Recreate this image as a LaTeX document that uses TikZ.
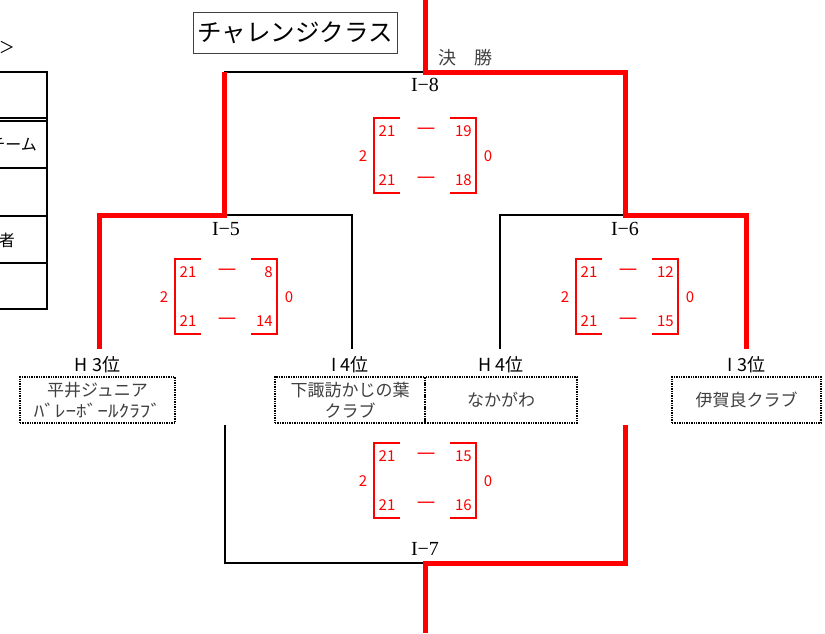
\documentclass[tikz,border=0pt]{standalone}
\usepackage{fontspec}
\usepackage{graphicx}
\newfontfamily\jp{Noto Sans CJK JP}
\newfontfamily\gamefont{Liberation Serif}
\usetikzlibrary{positioning}
\tikzset{
  win/.style={red,line width=5pt,line join=miter},
  lose/.style={black,line width=1.6pt},
  team/.style={draw,densely dotted,line width=1.4pt,minimum height=46pt,inner sep=0pt,
    text=darkgray,font=\jp\fontsize{17}{21}\selectfont,align=center},
  seed/.style={font=\jp\fontsize{18}{20}\selectfont,inner sep=0pt},
  game/.style={font=\gamefont\fontsize{20}{22}\selectfont,inner sep=0pt},
  pt/.style={text=red,font=\jp\fontsize{15}{16}\selectfont,inner sep=0pt},
  tab/.style={font=\jp\fontsize{16}{18}\selectfont,anchor=east,inner sep=0pt}
}
\newcommand\scorebox[7]{%
  \coordinate (#1) at (#2,#3);
  \draw[red,line width=1.5pt] (#1) ++(-25,-38) -- ++(-26,0) -- ++(0,75) -- ++(26,0);
  \draw[red,line width=1.5pt] (#1) ++(25,-38) -- ++(26,0) -- ++(0,75) -- ++(-26,0);
  \node[pt] (#1a) at ([shift={(-38,-25)}]#1) {#4};
  \node[pt] (#1d) at ([shift={(1,-25)}]#1) {\scalebox{1.4}[1]{ー}};
  \node[pt,anchor=east] (#1b) at ([shift={(47,-25)}]#1) {#5};
  \node[pt] (#1c) at ([shift={(-38,24)}]#1) {#6};
  \node[pt] (#1e) at ([shift={(1,24)}]#1) {\scalebox{1.4}[1]{ー}};
  \node[pt,anchor=east] (#1f) at ([shift={(47,24)}]#1) {#7};
  \node[pt] (#1w) at ([shift={(-62,0)}]#1) {2};
  \node[pt] (#1l) at ([shift={(63,0)}]#1) {0};
}
\begin{document}
\begin{tikzpicture}[x=1pt,y=-1pt]
\clip (0,0) rectangle (825,633);
\fill[white] (0,0) rectangle (825,633);

\node[tab] (gt) at (15,47) {＞};
\draw[lose] (-5,72) -- (47,72) -- (47,309) -- (-5,309);
\foreach \y in {118,121,168,216,263} \draw[lose] (-5,\y) -- (47,\y);
\node[tab] (cap1) at (37,145) {チーム};
\node[tab] (cap2) at (15,240) {者};

\node[draw=darkgray,line width=0.8pt,minimum width=204pt,minimum height=41pt,inner sep=0pt,
  font=\jp\fontsize{24.5}{28}\selectfont] (title) at (295,32.5) {チャレンジクラス};
\node[text=darkgray,font=\jp\fontsize{18}{20}\selectfont] (kessho) at (465,58) {決　勝};

\node[team,minimum width=155pt] (t1) at (97.5,400) {平井ジュニア\\\scalebox{1.25}[1]{ﾊﾞﾚｰﾎﾞｰﾙｸﾗﾌﾞ}};
\node[team,minimum width=150pt] (t2) at (350,400) {下諏訪かじの葉\\クラブ};
\node[team,minimum width=152pt] (t3) at (501,400) {なかがわ};
\node[team,minimum width=149pt] (t4) at (746.5,400) {伊賀良クラブ};
\node[seed,above=3pt of t1] (h3) {H 3位};
\node[seed,above=3pt of t2] (i4) {I 4位};
\node[seed,above=3pt of t3] (h4) {H 4位};
\node[seed,above=3pt of t4] (i3) {I 3位};

\coordinate (top) at (425,0);
\coordinate (f) at (425,72);
\coordinate (fL) at (224,72);
\coordinate (fR) at (625,72);
\coordinate (s5) at (224,215);
\coordinate (s5L) at (99,215);
\coordinate (s5R) at (352,215);
\coordinate (s6) at (625,215);
\coordinate (s6L) at (500,215);
\coordinate (s6R) at (746,215);
\coordinate (b7L) at (225,425);
\coordinate (b7R) at (625,425);
\coordinate (s7) at (425,563);
\coordinate (bot) at (425,633);

\draw[lose] (fL) -- (f);
\draw[lose] (s5) -- (s5R) -- ([yshift=7pt]s5R |- i4.north);
\draw[lose] (s6) -- (s6L) -- ([yshift=7pt]s6L |- h4.north);
\draw[lose] (b7L) -- (b7L |- s7) -- (s7);
\draw[win] (top) -- (f) -- (fR) -- (s6) -- (s6R) -- ([yshift=7pt]s6R |- i3.north);
\draw[win] (fL) -- (s5) -- (s5L) -- ([yshift=7pt]s5L |- h3.north);
\draw[win] (b7R) -- (b7R |- s7) -- (s7) -- (bot);

\node[game] (g8) at (425,85) {I−8};
\node[game] (g5) at (226,229) {I−5};
\node[game] (g6) at (625,229) {I−6};
\node[game] (g7) at (425,549) {I−7};

\scorebox{m8}{425}{156}{21}{19}{21}{18}
\scorebox{m5}{226}{297}{21}{8}{21}{14}
\scorebox{m6}{627}{297}{21}{12}{21}{15}
\scorebox{m7}{425}{481}{21}{15}{21}{16}
\end{tikzpicture}
\end{document}
